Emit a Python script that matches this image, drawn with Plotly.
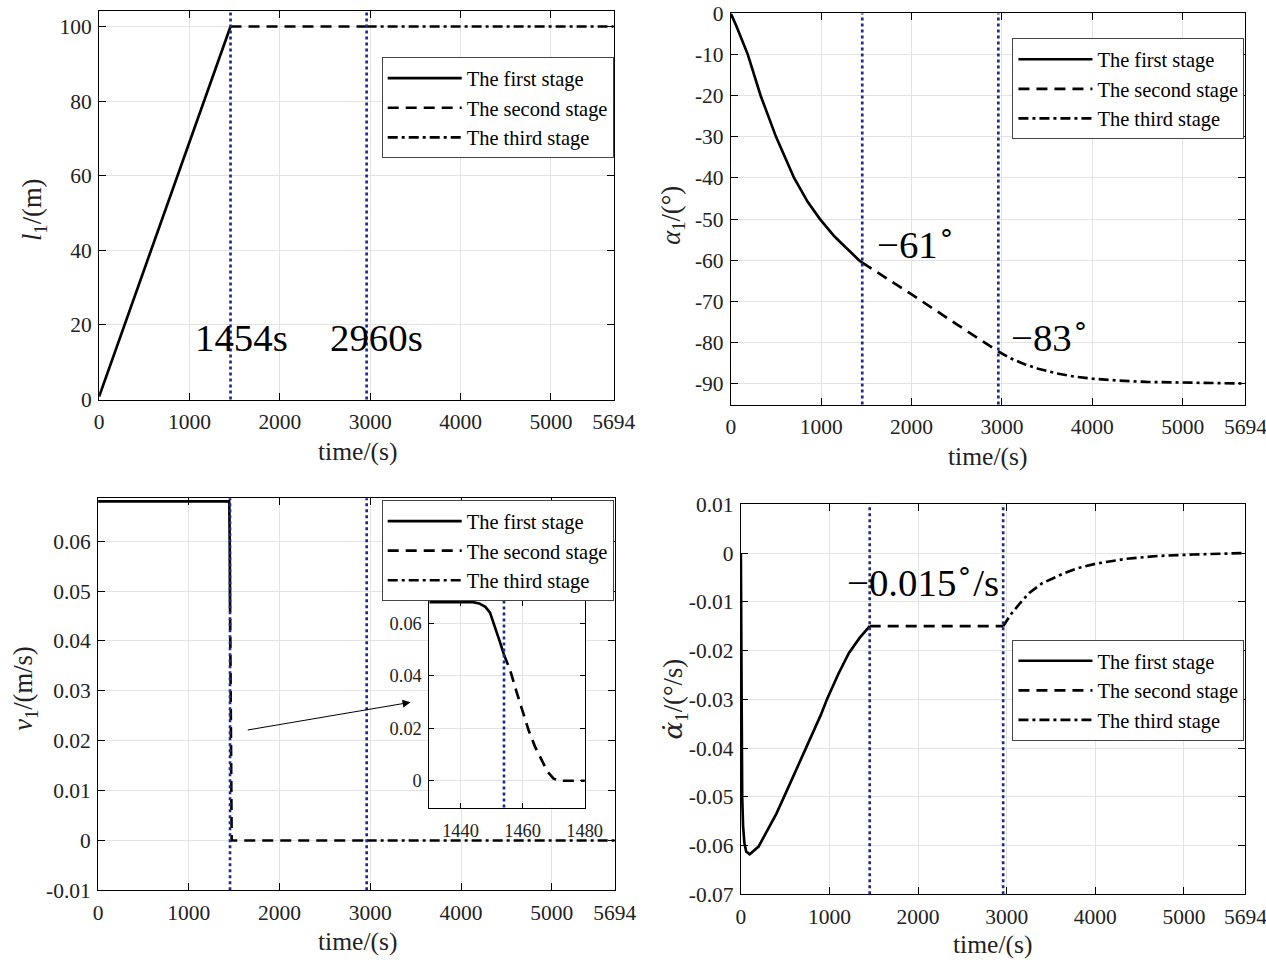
import plotly.graph_objects as go

# ---------------- data ----------------
stage_names = ["The first stage", "The second stage", "The third stage"]
stage_times = [1454, 2960]
t_end = 5694
x_ticks = [0, 1000, 2000, 3000, 4000, 5000, 5694]

# l1 (m)
l1_t1 = [0, 1454]
l1_v1 = [0.8, 100]
l1_t2 = [1454, 2960]
l1_v2 = [100, 100]
l1_t3 = [2960, 5694]
l1_v3 = [100, 100]

# alpha1 (deg)
a_t1 = [0, 60, 188, 330, 500, 700, 850, 986, 1150, 1300, 1418, 1454]
a_v1 = [0, -3.0, -10, -20, -30, -40, -45.8, -50, -54.3, -57.6, -60, -60.6]
a_t2 = [1454, 2000, 2500, 2960]
a_v2 = [-60.6, -68.3, -75.6, -82.2]
a_t3 = [2960, 3100, 3250, 3400, 3600, 3800, 4000, 4300, 4600, 5000, 5400, 5694]
a_v3 = [-82.2, -83.9, -85.3, -86.4, -87.5, -88.3, -88.8, -89.3, -89.6, -89.8, -89.95, -90]

# v1 (m/s)
v_t1 = [0, 1444, 1446, 1448, 1449.5, 1451, 1452.5, 1454]
v_v1 = [0.068, 0.068, 0.0675, 0.0662, 0.064, 0.059, 0.0535, 0.048]
v_t2 = [1454, 1456, 1458, 1460, 1462, 1464, 1466, 1468, 1470, 1472, 2960]
v_v2 = [0.048, 0.042, 0.034, 0.026, 0.019, 0.013, 0.0083, 0.0035, 0.0008, 0, 0]
v_t3 = [2960, 5694]
v_v3 = [0, 0]

# alpha1 dot (deg/s)
ad_t1 = [0, 3, 8, 15, 25, 40, 60, 100, 200, 300, 400, 500, 600, 700, 800, 900,
         972, 1100, 1220, 1340, 1454]
ad_v1 = [0, -0.02, -0.04, -0.05, -0.056, -0.0595, -0.0612, -0.0618, -0.0602, -0.057,
         -0.0535, -0.0495, -0.0455, -0.0415, -0.0375, -0.0333, -0.030, -0.0248,
         -0.0205, -0.0174, -0.015]
ad_t2 = [1454, 2960]
ad_v2 = [-0.015, -0.015]
ad_t3 = [2960, 3050, 3150, 3254, 3400, 3627, 3800, 4000, 4339, 4700, 5100, 5694]
ad_v3 = [-0.015, -0.0125, -0.0103, -0.0082, -0.0062, -0.0043, -0.0031, -0.0022,
         -0.0012, -0.0006, -0.0003, 0]

# tick labels
l1_ticks = [0, 20, 40, 60, 80, 100]
a_ticks = [0, -10, -20, -30, -40, -50, -60, -70, -80, -90]
v_ticks = [-0.01, 0, 0.01, 0.02, 0.03, 0.04, 0.05, 0.06]
v_ticktext = ["-0.01", "0", "0.01", "0.02", "0.03", "0.04", "0.05", "0.06"]
ad_ticks = [0.01, 0, -0.01, -0.02, -0.03, -0.04, -0.05, -0.06, -0.07]
ad_ticktext = ["0.01", "0", "-0.01", "-0.02", "-0.03", "-0.04", "-0.05", "-0.06", "-0.07"]
inset_xticks = [1440, 1460, 1480]
inset_yticks = [0, 0.02, 0.04, 0.06]

# ---------------- figure ----------------
S = 0.978           # observed render scale
OX, OY = 4.0, 10.5  # observed render offset
W, H = round(1266 / S), round(962 / S)
SERIF = "Liberation Serif, Times New Roman, serif"


def f(v):
    return v / S


def clamp(v):
    return min(1.0, max(0.0, v))


def px_x(p):
    return clamp(((p - OX) / S) / W)


def px_y(p):
    return clamp(1 - ((p - OY) / S) / H)


dashes = ["solid", "11px,7px", "10px,4px,3px,4px"]
LW = f(2.6)
VCOL = "#1c2a8c"

fig = go.Figure()

series = [
    ("x", "y", "legend", [(l1_t1, l1_v1), (l1_t2, l1_v2), (l1_t3, l1_v3)]),
    ("x2", "y2", "legend2", [(a_t1, a_v1), (a_t2, a_v2), (a_t3, a_v3)]),
    ("x3", "y3", "legend3", [(v_t1, v_v1), (v_t2, v_v2), (v_t3, v_v3)]),
    ("x4", "y4", "legend4", [(ad_t1, ad_v1), (ad_t2, ad_v2), (ad_t3, ad_v3)]),
]
for xa, ya, lg, segs in series:
    for i, (t, v) in enumerate(segs):
        fig.add_trace(go.Scatter(x=t, y=v, mode="lines", name=stage_names[i],
                                 xaxis=xa, yaxis=ya, legend=lg,
                                 line=dict(color="black", width=LW, dash=dashes[i])))
# inset traces
for i, (t, v) in enumerate([(v_t1, v_v1), (v_t2, v_v2), (v_t3, v_v3)]):
    fig.add_trace(go.Scatter(x=t, y=v, mode="lines", showlegend=False,
                             xaxis="x5", yaxis="y5",
                             line=dict(color="black", width=LW, dash=dashes[i])))


common = dict(showline=True, linecolor="black", linewidth=1, mirror="ticks",
              ticks="inside", ticklen=7, tickcolor="black",
              showgrid=True, gridcolor="#e3e3e3", gridwidth=1, zeroline=False,
              tickfont=dict(family=SERIF, size=f(21), color="#222"))

def xax(dom, anchor):
    return dict(common, domain=dom, anchor=anchor, range=[0, t_end],
                tickvals=x_ticks, ticktext=[str(v) for v in x_ticks],
                ticklabelstandoff=3)

# top-left panel: top edge limited by the visible area
tl_top = max(8, OY)
tl_range_top = 100 * (400 - tl_top) / (400 - 26)

ystand = 2
layout = dict(
    width=W, height=H, margin=dict(l=0, r=0, t=0, b=0),
    plot_bgcolor="white", paper_bgcolor="white",
    xaxis=xax([px_x(98), px_x(612)], "y"),
    yaxis=dict(common, domain=[px_y(400), px_y(tl_top)], anchor="x", range=[0, tl_range_top],
               tickvals=l1_ticks, ticktext=[str(v) for v in l1_ticks],
               ticklabelstandoff=ystand),
    xaxis2=xax([px_x(729), px_x(1243)], "y2"),
    yaxis2=dict(common, domain=[px_y(405), px_y(13)], anchor="x2", range=[-95.1, 0],
                tickvals=a_ticks, ticktext=[str(v) for v in a_ticks],
                ticklabelstandoff=ystand),
    xaxis3=xax([px_x(97), px_x(613)], "y3"),
    yaxis3=dict(common, domain=[px_y(892), px_y(499)], anchor="x3", range=[-0.01, 0.0686],
                tickvals=v_ticks, ticktext=v_ticktext, ticklabelstandoff=ystand),
    xaxis4=xax([px_x(739), px_x(1243)], "y4"),
    yaxis4=dict(common, domain=[px_y(896), px_y(505)], anchor="x4", range=[-0.07, 0.01],
                tickvals=ad_ticks, ticktext=ad_ticktext, ticklabelstandoff=ystand),
    xaxis5=dict(common, domain=[px_x(428), px_x(583)], anchor="y5", range=[1430, 1480],
                tickvals=inset_xticks, ticktext=[str(v) for v in inset_xticks],
                tickfont=dict(family=SERIF, size=f(18), color="#222"), ticklen=5,
                ticklabelstandoff=6),
    yaxis5=dict(common, domain=[px_y(809), px_y(602)], anchor="x5", range=[-0.0102, 0.0684],
                tickvals=inset_yticks, ticktext=["0", "0.02", "0.04", "0.06"],
                tickfont=dict(family=SERIF, size=f(18), color="#222"), ticklen=5,
                ticklabelstandoff=3),
    showlegend=True,
)

leg_common = dict(bgcolor="white", bordercolor="#444", borderwidth=1,
                  font=dict(family=SERIF, size=f(20), color="black"),
                  xanchor="right", yanchor="top", tracegroupgap=0,
                  itemwidth=74)
layout["legend"] = dict(leg_common, x=px_x(612), y=px_y(57))
layout["legend2"] = dict(leg_common, x=px_x(1242), y=px_y(38))
layout["legend3"] = dict(leg_common, x=px_x(612), y=px_y(501))
layout["legend4"] = dict(leg_common, x=px_x(1242), y=px_y(641))
fig.update_layout(**layout)

# stage boundary lines
for xa, ya in [("x", "y"), ("x2", "y2"), ("x3", "y3"), ("x4", "y4"), ("x5", "y5")]:
    for st in stage_times:
        if xa == "x5" and st > 1480:
            continue
        fig.add_shape(type="line", xref=xa, yref=f"{ya} domain", x0=st, x1=st, y0=0, y1=1,
                      line=dict(color=VCOL, width=f(2.6), dash="dot"))

ann = []
# axis titles
xt = [(356, 452), (985, 457), (356, 943), (990, 946)]
for cx, cy in xt:
    ann.append(dict(x=px_x(cx), y=px_y(cy), xref="paper", yref="paper", showarrow=False,
                    xanchor="center", yanchor="middle",
                    text="time/(s)", font=dict(family=SERIF, size=f(25), color="#222")))
yt = [((33, 210), "<i>l</i><sub>1</sub>/(m)"),
      ((671, 215), "<i>α</i><sub>1</sub>/(°)"),
      ((24, 690), "<i>v</i><sub>1</sub>/(m/s)"),
      ((673, 700), "<span style=\"font-family:DejaVu Serif\"><i>α̇</i></span><sub>1</sub>/(°/s)")]
for (cx, cy), txt in yt:
    ann.append(dict(x=px_x(cx), y=px_y(cy), xref="paper", yref="paper", showarrow=False,
                    xanchor="center", yanchor="middle",
                    text=txt, textangle=-90, font=dict(family=SERIF, size=f(26), color="#222")))

# value labels
big = dict(family=SERIF, size=f(38), color="black")
ann.append(dict(x=1573, y=16.5, xref="x", yref="y", showarrow=False, text="1454s", font=big,
                xanchor="center", yanchor="middle"))
ann.append(dict(x=3069, y=16.5, xref="x", yref="y", showarrow=False, text="2960s", font=big,
                xanchor="center", yanchor="middle"))
ann.append(dict(x=2050, y=-55.6, xref="x2", yref="y2", showarrow=False,
                text="−61<sup>∘</sup>", font=big, xanchor="center", yanchor="middle"))
ann.append(dict(x=3530, y=-78.3, xref="x2", yref="y2", showarrow=False,
                text="−83<sup>∘</sup>", font=big, xanchor="center", yanchor="middle"))
ann.append(dict(x=2056, y=-0.0055, xref="x4", yref="y4", showarrow=False,
                text="−0.015<sup>∘</sup>/s", font=big, xanchor="center", yanchor="middle"))
# zoom arrow
ann.append(dict(x=3444, y=0.0277, xref="x3", yref="y3", ax=1633, ay=0.0221,
                axref="x3", ayref="y3", showarrow=True, arrowhead=2, arrowsize=1.6,
                arrowwidth=1, arrowcolor="black", text=""))
fig.update_layout(annotations=ann)

fig.write_html("out.html")
